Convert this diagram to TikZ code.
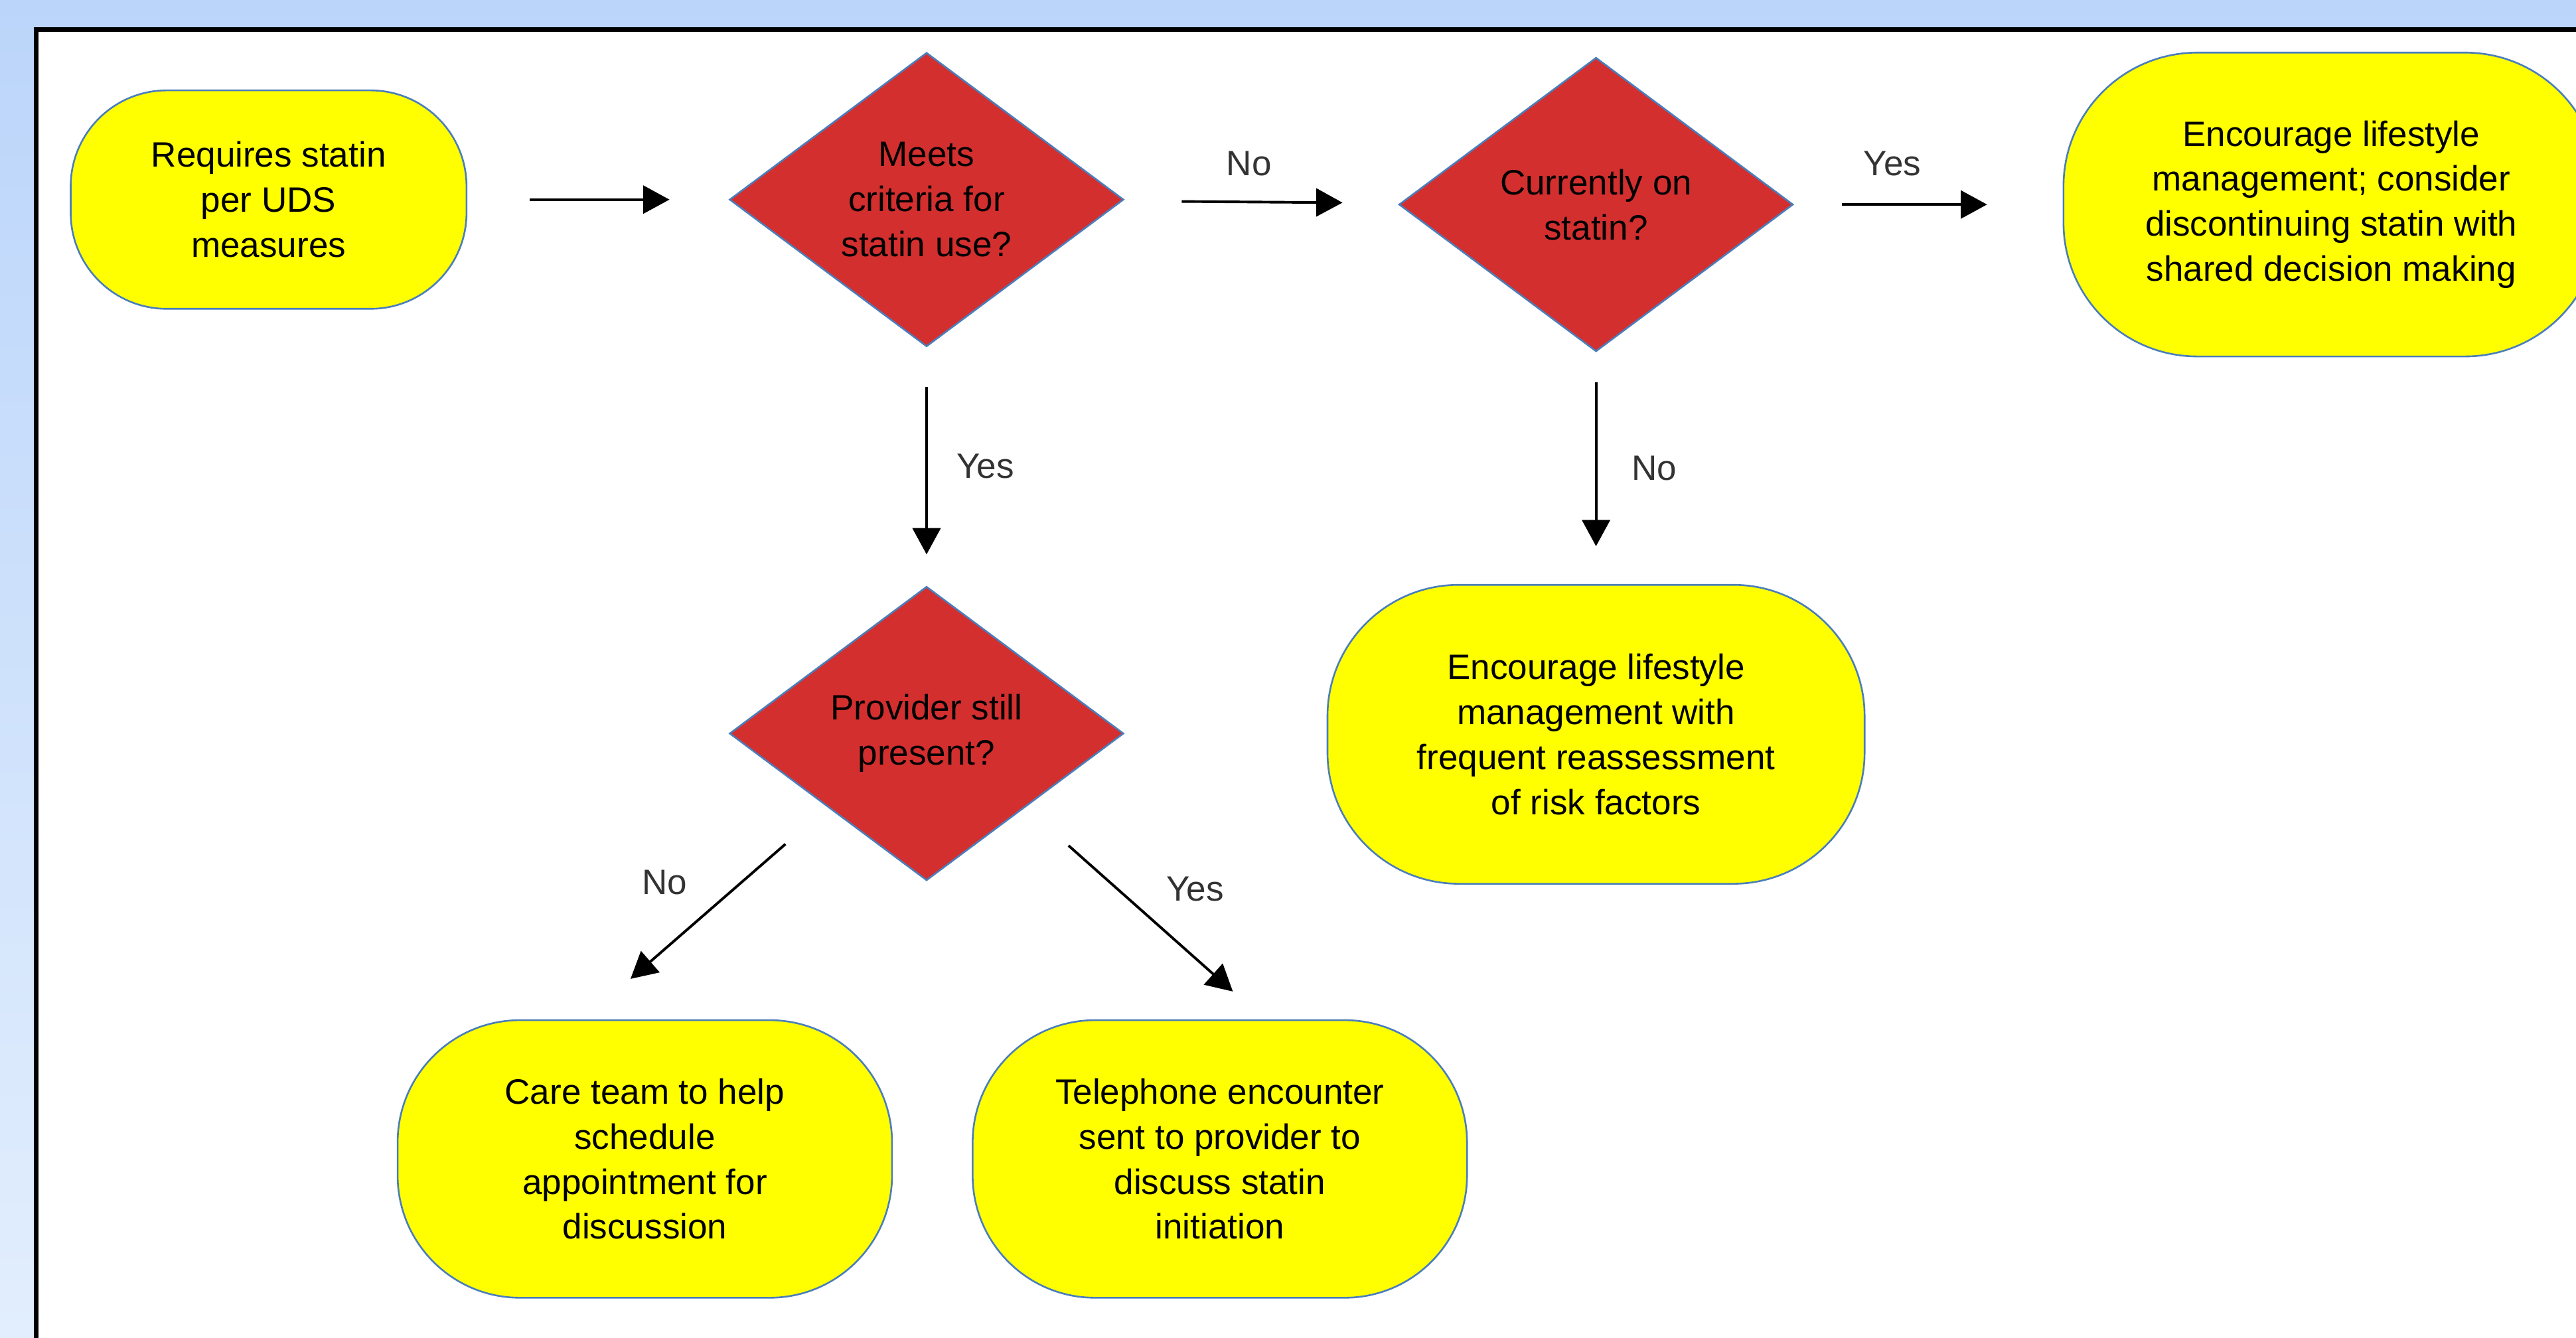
\documentclass[tikz,border=0pt]{standalone}
\usepackage{fontspec}
\setmainfont{Liberation Sans}
\usepackage{xcolor}
\usepackage{tikz}
\usetikzlibrary{
  arrows.meta,
  positioning,
  shapes.geometric,
  calc
}
\definecolor{TermYellow}{HTML}{FFFF00}
\definecolor{DecisionRed}{HTML}{D32F2F}
\definecolor{EdgeBlue}{HTML}{4A7EBB}
\definecolor{BackTop}{HTML}{BBD5FA}
\definecolor{BackBottom}{HTML}{E2EEFD}
\definecolor{AnswerGray}{HTML}{333333}
\tikzset{
  terminal/.style={
    rectangle,
    draw=EdgeBlue,
    line width=0.6pt,
    fill=TermYellow,
    align=center,
    inner sep=0pt
  },
  decision/.style={
    diamond,
    draw=EdgeBlue,
    line width=0.6pt,
    fill=DecisionRed,
    align=center,
    inner sep=0pt,
    minimum width=4.8cm,
    minimum height=3.58cm
  },
  flow/.style={
    -{Triangle[length=3.2mm,width=3.4mm]},
    line width=0.9pt
  },
  answer/.style={
    text=AnswerGray,
    inner sep=0pt
  }
}

\begin{document}
\begin{tikzpicture}[x=0.02cm,y=-0.02cm,font=\fontsize{12.2}{15.6}\selectfont]

  \useasboundingbox (0,0) rectangle (1568,814.1);
  \clip (0,0) rectangle (1568,814.1);

  % backdrop and frame
  \shade[top color=BackTop, bottom color=BackBottom]
  (0,0) rectangle (1568,814.1);
  \draw[line width=1.6pt, fill=white]
  (22,18) rectangle (1620,860);

  \node[
    terminal,
    rounded corners=1.17cm,
    minimum width=4.82cm,
    minimum height=2.66cm
  ] at (163.5,121.5) (start) {
    Requires statin\\per UDS\\measures
  };

  \node[
    decision
  ] at (564,121.5) (criteria) {
    Meets\\criteria for\\statin use?
  };

  \node[
    decision
  ] at (971.5,124.5) (onstatin) {
    Currently on\\statin?
  };

  \node[
    terminal,
    rounded corners=1.63cm,
    minimum width=6.52cm,
    minimum height=3.7cm
  ] at (1419,124.5) (discontinue) {
    Encourage lifestyle\\management; consider\\discontinuing statin with\\shared decision making
  };

  \node[
    decision
  ] at (564,446.5) (provider) {
    Provider still\\present?
  };

  \node[
    terminal,
    rounded corners=1.6cm,
    minimum width=6.54cm,
    minimum height=3.64cm
  ] at (971.5,447) (lifestyle) {
    Encourage lifestyle\\management with\\frequent reassessment\\of risk factors
  };

  \node[
    terminal,
    rounded corners=1.49cm,
    minimum width=6.02cm,
    minimum height=3.38cm
  ] at (392.5,705.5) (careteam) {
    Care team to help\\schedule\\appointment for\\discussion
  };

  \node[
    terminal,
    rounded corners=1.49cm,
    minimum width=6.02cm,
    minimum height=3.38cm
  ] at (742.5,705.5) (telephone) {
    Telephone encounter\\sent to provider to\\discuss statin\\initiation
  };

  \draw[flow, shorten <=0.76cm, shorten >=0.72cm]
  (start) --
  (criteria);

  \draw[flow, shorten <=0.72cm, shorten >=0.7cm]
  (criteria) --
  node[answer, above=0.3cm, xshift=-0.15cm] {No}
  (onstatin);

  \draw[flow, shorten <=0.58cm, shorten >=0.92cm]
  (onstatin) --
  node[answer, above=0.33cm, xshift=-0.44cm] {Yes}
  (discontinue);

  \draw[flow, shorten <=0.48cm, shorten >=0.38cm]
  (criteria) --
  node[answer, right=0.35cm] {Yes}
  (provider);

  \draw[flow, shorten <=0.36cm, shorten >=0.46cm]
  (onstatin) --
  node[answer, right=0.42cm] {No}
  (lifestyle);

  \draw[flow, shorten <=0.68cm, shorten >=0.75cm]
  (provider.south west) --
  node[answer, xshift=-0.5cm, yshift=0.38cm] {No}
  ([xshift=-0.74cm]careteam.north);

  \draw[flow, shorten <=0.7cm, shorten >=0.51cm]
  (provider.south east) --
  node[answer, xshift=0.61cm, yshift=0.3cm] {Yes}
  ([xshift=0.54cm]telephone.north);

\end{tikzpicture}
\end{document}
